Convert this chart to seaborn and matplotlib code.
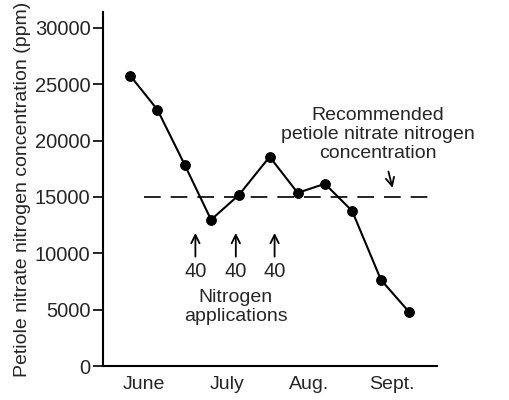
import numpy as np
import pandas as pd
import matplotlib
matplotlib.use("Agg")
import matplotlib.pyplot as plt
import seaborn as sns

sns.set_theme(style="white")
plt.rcParams['font.family'] = ['Liberation Sans', 'DejaVu Sans']

# sampling time in months from 1 June (10-day intervals)
months_since_june = [0.33, 0.66, 0.99, 1.31, 1.65, 2.02, 2.36, 2.69, 3.02, 3.37, 3.71]
nitrate_ppm = [25750, 22730, 17850, 12970, 15190, 18560, 15360, 16160, 13760, 7640, 4800]

month_labels = ['June', 'July', 'Aug.', 'Sept.']
recommended_ppm = 15000
application_times = [1.12, 1.61, 2.08]
application_rates = ['40', '40', '40']

df = pd.DataFrame({'t': months_since_june, 'ppm': nitrate_ppm})

fig = plt.figure(figsize=(5.1, 4.0), dpi=100)
ax = fig.add_axes([0.202, 0.085, 0.655, 0.885])

sns.lineplot(data=df, x='t', y='ppm', ax=ax, color='black', linewidth=1.5,
             marker='o', markersize=7, markeredgecolor='black')

ax.hlines(recommended_ppm, 0.5, 3.95, colors='black', linewidth=1.2,
          linestyles=(0, (10, 6)))

ax.set_xlim(0, 4.05)
ax.set_ylim(0, 31400)
ax.set_yticks(np.arange(0, 30001, 5000))
ax.set_yticklabels([str(v) for v in range(0, 30001, 5000)], fontsize=14.5)
ax.set_xticks(range(0, 5))
ax.set_xticklabels([])
ax.set_xticks([0.5, 1.5, 2.5, 3.5], minor=True)
ax.set_xticklabels(month_labels, minor=True, fontsize=14)
ax.tick_params(axis='x', which='major', direction='in', length=6, width=1.2, color='black')
ax.tick_params(axis='x', which='minor', length=0, pad=7)
ax.tick_params(axis='y', direction='out', length=7, width=1.2, color='black', left=True, pad=2)

for side in ['top', 'right']:
    ax.spines[side].set_visible(False)
for side in ['left', 'bottom']:
    ax.spines[side].set_color('black')
    ax.spines[side].set_linewidth(1.5)

ax.set_xlabel('')
ax.set_ylabel('Petiole nitrate nitrogen concentration (ppm)', fontsize=14, labelpad=3)

arrow_style = dict(arrowstyle='->,head_length=0.5,head_width=0.25',
                   color='black', lw=1.3, shrinkA=0, shrinkB=0)

for t, rate in zip(application_times, application_rates):
    ax.annotate('', xy=(t, 11800), xytext=(t, 9700), arrowprops=arrow_style)
    ax.text(t, 8350, rate, ha='center', va='center', fontsize=14.5)
ax.text(1.61, 5200, 'Nitrogen\napplications', ha='center', va='center',
        fontsize=14, linespacing=1.15)

ax.text(3.33, 20500, 'Recommended\npetiole nitrate nitrogen\nconcentration',
        ha='center', va='center', fontsize=14, linespacing=1.15)
ax.annotate('', xy=(3.51, 15800), xytext=(3.46, 17250), arrowprops=arrow_style)

fig.savefig('out.png', dpi=100, facecolor='white')
